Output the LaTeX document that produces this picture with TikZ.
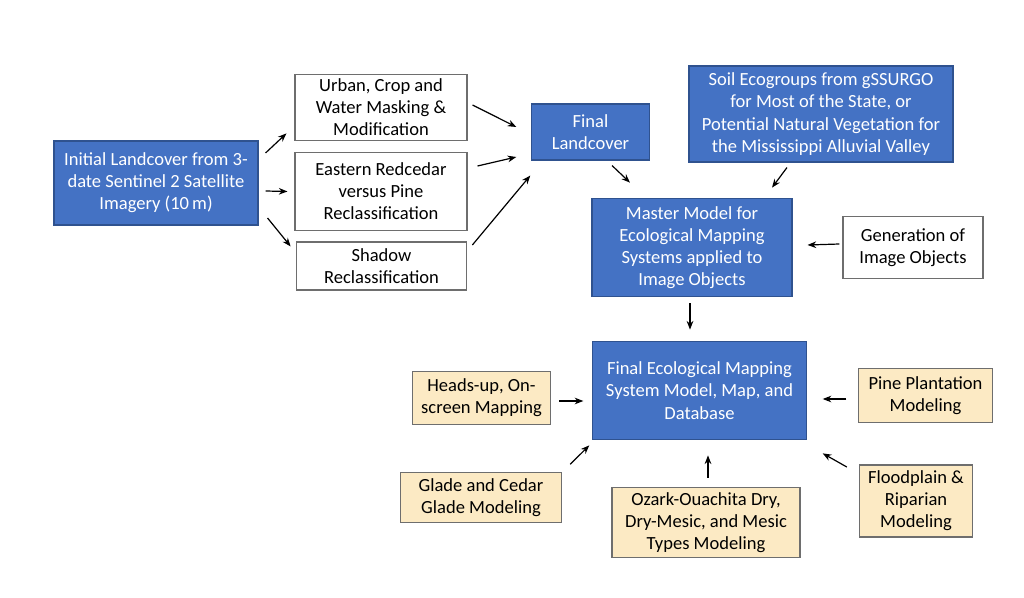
\documentclass[tikz,border=0pt]{standalone}
\usepackage{fontspec}
\setmainfont{Carlito}
\usetikzlibrary{arrows.meta}

\definecolor{boxblue}{HTML}{4472C4}
\definecolor{blueline}{HTML}{2F528F}
\definecolor{boxtan}{HTML}{FCEAC4}
\definecolor{greyline}{HTML}{6E6E6E}

\begin{document}
\begin{tikzpicture}[x=0.75pt, y=-0.75pt,
        box/.style = {inner sep=0pt, align=center, font=\fontsize{13.9}{16.6}\selectfont, line width=0.8pt},
        bluebox/.style = {box, draw=blueline, fill=boxblue, text=white},
        whitebox/.style = {box, draw=greyline, fill=white},
        tanbox/.style = {box, draw=greyline, fill=boxtan},
        arr/.style = {-{Stealth[length=6.5pt, width=5pt]}, line width=0.9pt}]
        \useasboundingbox (0,0) rectangle (1024,598);

        \node[bluebox, minimum width=153pt, minimum height=63pt] (init) at (156,183) {Initial Landcover from 3-\\date Sentinel 2 Satellite\\Imagery (10\,m)};

        \node[whitebox, minimum width=129pt, minimum height=50pt] (urban) at (381,107.5) {Urban, Crop and\\Water Masking \&\\Modification};
        \node[whitebox, minimum width=129pt, minimum height=59pt] (cedar) at (381,191.5) {Eastern Redcedar\\versus Pine\\Reclassification};
        \node[whitebox, minimum width=128pt, minimum height=36pt] (shadow) at (381.5,266) {Shadow\\Reclassification};

        \node[bluebox, minimum width=88pt, minimum height=42pt] (landcover) at (590.5,132) {Final\\Landcover};
        \node[bluebox, minimum width=198pt, minimum height=72pt] (soil) at (821,114) {Soil Ecogroups from gSSURGO\\for Most of the State, or\\Potential Natural Vegetation for\\the Mississippi Alluvial Valley};

        \node[bluebox, minimum width=150pt, minimum height=74pt] (master) at (692,247.5) {Master Model for\\Ecological Mapping\\Systems applied to\\Image Objects};
        \node[whitebox, minimum width=105pt, minimum height=46pt] (objects) at (913,247.5) {Generation of\\Image Objects};

        \node[bluebox, minimum width=160pt, minimum height=74pt] (final) at (699.5,390.5) {Final Ecological Mapping\\System Model, Map, and\\Database};

        \node[tanbox, minimum width=104pt, minimum height=40pt] (headsup) at (481.5,398) {Heads-up, On-\\screen Mapping};
        \node[tanbox, minimum width=100pt, minimum height=40pt] (pine) at (925.5,395.5) {Pine Plantation\\Modeling};
        \node[tanbox, minimum width=121pt, minimum height=37pt] (glade) at (481,497.5) {Glade and Cedar\\Glade Modeling};
        \node[tanbox, minimum width=141pt, minimum height=53pt] (ozark) at (706,522.5) {Ozark-Ouachita Dry,\\Dry-Mesic, and Mesic\\Types Modeling};
        \node[tanbox, minimum width=85pt, minimum height=54pt] (flood) at (916,501) {Floodplain \&\\Riparian\\Modeling};

        % landcover steps
        \draw[arr] ([shift={(7,-30)}]init.east) -- ([shift={(-8,-8)}]urban.south west);
        \draw[arr] ([shift={(7,8)}]init.east) -- ([shift={(-7,0)}]cedar.west);
        \draw[arr] ([shift={(9,35)}]init.east) -- ([shift={(-5,5)}]shadow.north west);

        \draw[arr] ([shift={(5,-2.5)}]urban.east) -- ([shift={(-15,-5)}]landcover.west);
        \draw[arr] ([shift={(10,-25.5)}]cedar.east) -- ([shift={(-15,25)}]landcover.west);
        \draw[arr] ([shift={(5,-21)}]shadow.east) -- ([shift={(-1,15)}]landcover.south west);

        % into the master model
        \draw[arr] ([shift={(21.5,5)}]landcover.south) -- ([shift={(-62,-15)}]master.north);
        \draw[arr] ([shift={(-34,5)}]soil.south) -- ([shift={(80,-10)}]master.north);
        \draw[arr] ([shift={(-3,-3.5)}]objects.west) -- ([shift={(15,-2.5)}]master.east);
        \draw[arr] ([shift={(-2,6)}]master.south) -- ([shift={(-9.5,-11)}]final.north);

        % into the final model
        \draw[arr] ([shift={(8,3)}]headsup.east) -- ([shift={(-9,10.5)}]final.west);
        \draw[arr] ([shift={(8,-8)}]glade.north east) -- ([shift={(-3,5)}]final.south west);
        \draw[arr] ([shift={(2,-9)}]ozark.north) -- ([shift={(8.5,15)}]final.south);
        \draw[arr] ([shift={(-12,3.5)}]pine.west) -- ([shift={(16,8.5)}]final.east);
        \draw[arr] ([shift={(-12,-34)}]flood.west) -- ([shift={(16,13)}]final.south east);
    \end{tikzpicture}
\end{document}
